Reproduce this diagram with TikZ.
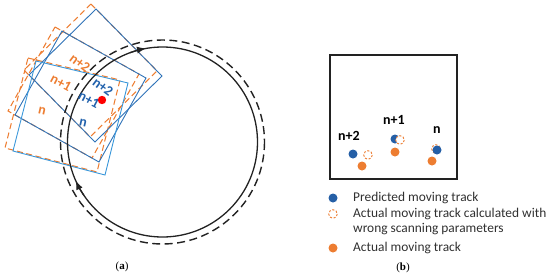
\documentclass[tikz,border=0pt]{standalone}
\usepackage{fontspec}
\setmainfont{Carlito}
\newfontfamily\capfont{Liberation Serif}
\usetikzlibrary{arrows.meta}
\definecolor{sqblue}{HTML}{2F73B8}
\definecolor{sqlight}{HTML}{3C98DA}
\definecolor{lblblue}{HTML}{2161AC}
\definecolor{org}{HTML}{ED7D31}
\definecolor{dotblue}{HTML}{255FA6}
\definecolor{track}{HTML}{222222}
\definecolor{legtext}{HTML}{303030}
\begin{document}
\begin{tikzpicture}[x=1pt,y=-1pt,
  bluesq/.style={draw=sqblue,line width=0.9pt,line join=miter},
  lightsq/.style={draw=sqlight,line width=0.9pt,line join=miter},
  orgsq/.style={draw=org,line width=1.05pt,dash pattern=on 6pt off 3.5pt},
  lbl/.style={font=\fontsize{14}{14}\selectfont\bfseries,inner sep=0pt},
  olbl/.style={lbl,text=org},
  blbl/.style={lbl,text=lblblue},
  trk/.style={draw=track,line width=1.3pt},
  trkdash/.style={draw=track,line width=1.4pt,dash pattern=on 8pt off 4.5pt},
  arrtip/.style={trk,-{Latex[length=9pt,width=7pt]}},
  bdot/.style={fill=dotblue,draw=none},
  odot/.style={fill=org,draw=none},
  oring/.style={draw=org,line width=0.9pt,dash pattern=on 2.2pt off 1.6pt,fill=white},
  legend/.style={font=\fontsize{13.4}{13.4}\selectfont,text=legtext,anchor=west,inner sep=0pt},
  captext/.style={font=\capfont\fontsize{11}{11}\selectfont,inner sep=0pt}
]
\useasboundingbox (0,0) rectangle (550,279);

% ---------- (a) ----------
% actual (dashed orange) scanning squares
\draw[orgsq] (91,4) -- (157,71) -- (90,137) -- (24,70) -- cycle;
\draw[orgsq] (55,27) -- (139,74) -- (92,158) -- (8,111) -- cycle;
\draw[orgsq] (28,58) -- (120,80) -- (97,172) -- (5,148) -- cycle;
% predicted (blue) scanning squares
\draw[bluesq] (96,9) -- (162,76) -- (95,142) -- (29,75) -- cycle;
\draw[bluesq] (62,31) -- (146,78) -- (99,162) -- (15,115) -- cycle;
\draw[lightsq] (36,61) -- (128,83) -- (105,175) -- (13,151) -- cycle;

% tracks
\coordinate (C) at (162.5,142);
\draw[trkdash] (C) circle[radius=102];
\draw[trk] (C) circle[radius=95];
\draw[arrtip] (C) ++(250:95) arc[start angle=250,end angle=260,radius=95];
\draw[arrtip] (C) ++(146:95) arc[start angle=146,end angle=156,radius=95];

% labels
\node[olbl,rotate=-37] (on2) at (80,63) {n+2};
\node[olbl,rotate=-28] (on1) at (61,83) {n+1};
\node[olbl,rotate=-13] (on0) at (42,111) {n};
\node[blbl,rotate=-37] (bn2) at (103,87) {n+2};
\node[blbl,rotate=-28] (bn1) at (89,100) {n+1};
\node[blbl,rotate=-13] (bn0) at (83,123) {n};
\fill[red] (102,100) circle[radius=4.2];

\node[captext] (capa) at (122,267) {(\textbf{a})};

% ---------- (b) ----------
\draw[draw=track,line width=1.1pt] (330,55) rectangle (457,179);
\node[lbl] (m2) at (349,136) {n+2};
\node[lbl] (m1) at (394,120) {n+1};
\node[lbl] (m0) at (437,130) {n};

\fill[bdot] (353,154) circle[radius=4.5];
\draw[oring] (368,155) circle[radius=4.3];
\fill[odot] (362,166) circle[radius=4.5];

\fill[bdot] (395,139) circle[radius=4.5];
\draw[oring] (400,140) circle[radius=4.3];
\fill[odot] (395,152) circle[radius=4.5];

\draw[oring] (436,149) circle[radius=4.3];
\fill[bdot] (437,150) circle[radius=4.5];
\fill[odot] (432,161) circle[radius=4.5];

% legend
\fill[bdot] (333,198) circle[radius=4.5];
\node[legend] (l1) at (353,198) {Predicted moving track};
\draw[oring] (333,214) circle[radius=4.3];
\node[legend] (l2) at (353,214) {Actual moving track calculated with};
\node[legend] (l3) at (353,229) {wrong scanning parameters};
\fill[odot] (333,248) circle[radius=4.5];
\node[legend] (l4) at (353,248) {Actual moving track};

\node[captext] (capb) at (403,268) {(\textbf{b})};
\end{tikzpicture}
\end{document}
